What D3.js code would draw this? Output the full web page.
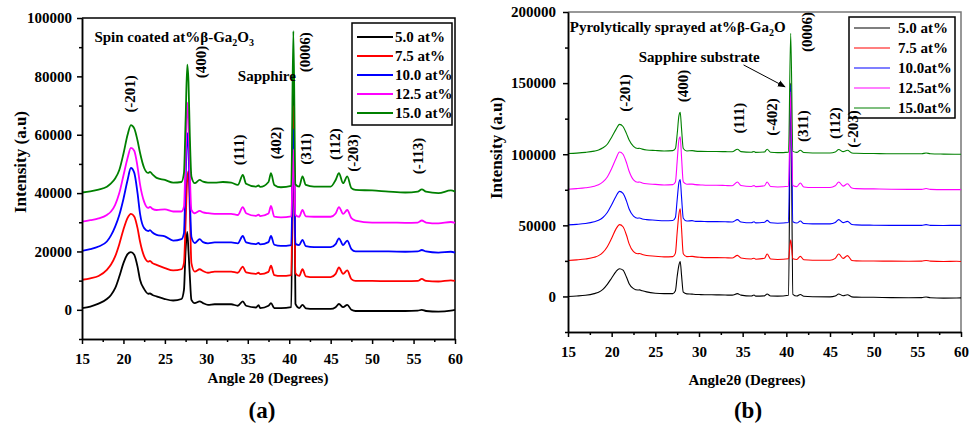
<!DOCTYPE html>
<html>
<head>
<meta charset="utf-8">
<script src="https://cdn.jsdelivr.net/npm/d3@7"></script>
<style>
body { margin: 0; background: #fff; }
svg text { font-family: "Liberation Serif", "Times New Roman", serif; font-weight: bold; fill: #000; }
</style>
</head>
<body>
<div id="chart"></div>
<script>
// 2theta positions shared by every pattern
var angles = [15, 16, 17, 18, 18.5, 19, 19.5, 20, 20.5, 20.9, 21.3, 21.7, 22, 22.5, 23, 23.2, 23.5, 24, 25, 26,
  27, 27.3, 27.5, 27.7, 27.85, 28, 28.2, 28.6, 29.2, 29.6, 30.2, 31, 32, 33, 33.8, 34.4, 34.8, 36, 36.3, 36.5,
  37.5, 37.8, 38.2, 39, 40.25, 40.5, 40.75, 41.2, 41.6, 42, 43, 45, 45.6, 46, 46.5, 47, 47.5, 48, 50,
  52, 54, 55.5, 56, 56.5, 58, 59.5, 60];

var seriesColors = ["#000000", "#ff0000", "#0000ff", "#ff00ff", "#008000"];
var legendA = ["5.0 at%", "7.5 at%", "10.0 at%", "12.5 at%", "15.0 at%"];
var legendB = ["5.0 at%", "7.5 at%", "10.0at%", "12.5at%", "15.0at%"];

var xTicks = [15, 20, 25, 30, 35, 40, 45, 50, 55, 60];
var xMinor = [17.5, 22.5, 27.5, 32.5, 37.5, 42.5, 47.5, 52.5, 57.5];
var yTicksA = [0, 20000, 40000, 60000, 80000, 100000];
var yMinorA = [-10000, 10000, 30000, 50000, 70000, 90000];
var yTicksB = [0, 50000, 100000, 150000, 200000];
var yMinorB = [-25000, 25000, 75000, 125000, 175000];

// (a) spin coated
var spin50 = [600, 1100, 2100, 3700, 5100, 7400, 11400, 16000, 19100, 19800, 18900, 14800, 10300, 7100, 5500, 5600, 5100, 4600, 3700, 3200,
  3700, 6800, 20500, 26700, 20000, 12000, 3400, 2300, 2900, 2300, 1700, 1900, 1900, 1900, 1400, 2900, 1400, 800, 1600, 600,
  1400, 2300, 600, 600, 900, 80000, 2000, 600, 1700, 500, 300, 300, 900, 2000, 900, 1700, 0, -400, -400,
  -400, -400, -300, 0, -400, -600, -300, 0];
var spin75 = [10300, 10800, 11600, 13700, 15500, 18300, 22500, 27500, 31500, 32900, 32000, 28000, 23400, 18300, 16500, 16800, 16000, 15400, 14300, 13500,
  13900, 16000, 30000, 45000, 47500, 35000, 16000, 13100, 13900, 13300, 12700, 13100, 13100, 13100, 12700, 14800, 12800, 12300, 12700, 12200,
  13000, 15100, 11900, 11600, 11900, 70000, 12500, 11600, 13900, 11500, 11200, 11200, 12300, 14500, 12300, 13500, 10500, 9900, 9900,
  9800, 9800, 9900, 10600, 9900, 9700, 10100, 9900];
var spin100 = [20200, 20800, 21700, 23400, 25500, 28500, 32500, 38000, 44500, 48600, 47000, 40000, 33000, 28000, 27000, 27300, 26500, 25700, 25200, 23700,
  24200, 26300, 45000, 60500, 55000, 40000, 25000, 22900, 24200, 23200, 22800, 23100, 23100, 23100, 22800, 25300, 23100, 22500, 22900, 22400,
  23200, 25300, 22300, 21900, 22200, 62000, 22600, 22200, 24000, 21800, 21500, 21500, 22500, 24500, 22200, 23700, 20800, 20000, 20000,
  20000, 19900, 20000, 20500, 20000, 19600, 19900, 19600];
var spin125 = [30200, 30700, 31300, 32500, 33700, 36000, 40000, 46000, 52000, 55500, 54500, 49000, 43000, 37000, 34900, 35300, 34600, 34200, 34400, 33700,
  33700, 35300, 52000, 71000, 65000, 48000, 34200, 33100, 33900, 33400, 33100, 32900, 32900, 32900, 32500, 35200, 33100, 32200, 32600, 32100,
  33000, 35600, 31900, 31700, 32000, 55000, 32500, 31900, 34200, 32000, 31900, 31900, 33000, 35200, 32900, 34200, 31400, 30600, 29900,
  29900, 29800, 29900, 30600, 29900, 29600, 30100, 29800];
var spin150 = [40200, 40600, 41200, 42200, 43300, 45000, 47900, 53500, 60000, 63300, 62200, 58000, 53800, 48600, 46900, 47300, 46400, 45200, 44500, 43600,
  43800, 46900, 65000, 84000, 78000, 60600, 45700, 43400, 44500, 43900, 43600, 43600, 43800, 43600, 42800, 46200, 43200, 42200, 42600, 42100,
  43800, 46800, 42800, 42000, 42500, 95500, 43000, 42200, 45700, 42800, 42200, 42200, 44500, 46800, 43400, 45700, 41700, 41100, 40900,
  40500, 40200, 40500, 41300, 40500, 40000, 40900, 40500];

// (b) pyrolytically sprayed
var spray50 = [0, 300, 800, 2000, 3000, 5000, 8500, 13000, 17500, 19500, 18500, 13500, 9000, 5500, 4500, 4600, 4000, 3200, 2300, 2000,
  2000, 4000, 14000, 22000, 24600, 15000, 3000, 1800, 1600, 1400, 1300, 1200, 1100, 1000, 900, 2000, 900, 300, 1000, 200,
  400, 1700, 300, 200, 800, 150000, 1500, 300, 1400, 100, -200, -300, 300, 1700, 500, 1200, -300, -500, -600,
  -800, -900, -800, -400, -900, -1200, -1100, -1000];
var spray75 = [25300, 25700, 26300, 27500, 28700, 31000, 35000, 41000, 47500, 50500, 49000, 43000, 37000, 31500, 30000, 30200, 29500, 28800, 28300, 27800,
  28000, 30500, 45000, 58000, 61700, 48000, 30000, 28000, 28200, 27800, 27500, 27300, 27300, 27200, 27000, 28900, 27000, 26300, 26900, 26200,
  26800, 29800, 26300, 26000, 26500, 39900, 26500, 26000, 28200, 25800, 25500, 25500, 26800, 29800, 26800, 28700, 25300, 25000, 24900,
  24800, 24700, 24800, 25300, 24800, 24600, 24700, 24600];
var spray100 = [50300, 50700, 51300, 52500, 53500, 55500, 59000, 64500, 70500, 73900, 72500, 67000, 61500, 56500, 55000, 55200, 54500, 54000, 53600, 53200,
  53400, 55500, 68000, 80000, 82200, 70000, 55000, 53000, 53300, 52800, 52800, 52600, 52600, 52500, 52300, 54000, 52400, 51800, 52500, 51700,
  52200, 53500, 51800, 51500, 52000, 148600, 52500, 51600, 53000, 51300, 51000, 51000, 52000, 54000, 51900, 52800, 50600, 50300, 50100,
  50000, 50000, 50000, 50500, 50000, 49900, 50000, 50000];
var spray125 = [75400, 75800, 76400, 77500, 78500, 80500, 84000, 90000, 97000, 101600, 100000, 94000, 88000, 82000, 80300, 80500, 79800, 79200, 78800, 78400,
  78600, 80500, 95000, 110000, 112200, 98000, 80500, 78900, 79000, 78600, 78400, 78200, 78200, 78000, 77800, 80500, 78000, 77300, 77900, 77200,
  77800, 80500, 77300, 77000, 77500, 143900, 78000, 77200, 79800, 77000, 76600, 76600, 77800, 80500, 77600, 79200, 76200, 75800, 75600,
  75400, 75300, 75300, 75900, 75300, 75100, 75100, 75100];
var spray150 = [100500, 100800, 101300, 102200, 103000, 104500, 107000, 112000, 117500, 121000, 119500, 114500, 110000, 105500, 104000, 104200, 103600, 103000, 102600, 102300,
  102500, 104000, 114000, 127000, 129400, 118000, 104000, 102300, 102500, 102200, 102000, 101900, 101900, 101800, 101700, 103500, 101800, 101400, 101900, 101300,
  101600, 103500, 101400, 101100, 101500, 185000, 102000, 101300, 102800, 101200, 100900, 100900, 101600, 103300, 101800, 102800, 100900, 100700, 100500,
  100300, 100300, 100300, 100900, 100300, 100100, 100000, 100000];

var svg = d3.select("#chart").append("svg")
  .attr("width", 979)
  .attr("height", 425);

function drawPanel(p) {
  var g = svg.append("g");

  var x = d3.scaleLinear().domain([15, 60]).range([p.left, p.right]);
  var y = d3.scaleLinear().domain(p.yDomain).range([p.bottom, p.top]);

  // frame (top + right)
  g.append("path")
    .attr("d", `M${p.left},${p.top}H${p.right}V${p.bottom}`)
    .attr("fill", "none")
    .attr("stroke", p.frameColor)
    .attr("stroke-width", 1.5);

  // patterns
  var line = d3.line()
    .x((d, i) => x(angles[i]))
    .y(d => y(d))
    .curve(d3.curveMonotoneX);

  g.selectAll(".trace")
    .data(p.series)
    .enter()
    .append("path")
    .attr("class", "trace")
    .attr("d", d => line(d))
    .attr("fill", "none")
    .attr("stroke", (d, i) => seriesColors[i])
    .attr("stroke-width", p.lineWidth)
    .attr("stroke-linejoin", "round");

  // axes
  var xAxis = g.append("g")
    .attr("transform", `translate(0, ${p.bottom})`)
    .call(d3.axisBottom(x).tickValues(xTicks).tickSize(5).tickSizeOuter(0).tickPadding(9));
  g.append("g")
    .attr("transform", `translate(0, ${p.bottom})`)
    .call(d3.axisBottom(x).tickValues(xMinor).tickSize(3).tickSizeOuter(0).tickFormat(""));
  var yAxis = g.append("g")
    .attr("transform", `translate(${p.left}, 0)`)
    .call(d3.axisLeft(y).tickValues(p.yTicks).tickSize(5).tickSizeOuter(0).tickPadding(p.yPad).tickFormat(d3.format("d")));
  g.append("g")
    .attr("transform", `translate(${p.left}, 0)`)
    .call(d3.axisLeft(y).tickValues(p.yMinor).tickSize(3).tickSizeOuter(0).tickFormat(""));

  g.selectAll(".domain, .tick line").attr("stroke", "#000").attr("stroke-width", 1.5);
  g.selectAll(".tick text").attr("font-size", 15).attr("font-family", "Liberation Serif").attr("font-weight", "bold");

  // axis titles
  g.append("text")
    .attr("transform", `translate(${p.yTitleX}, ${p.yTitleY}) rotate(-90)`)
    .attr("text-anchor", "middle")
    .attr("dominant-baseline", "central")
    .attr("font-size", 17)
    .text("Intensity (a.u)");
  g.append("text")
    .attr("x", p.xTitleX)
    .attr("y", p.xTitleY)
    .attr("text-anchor", "middle")
    .attr("font-size", 15)
    .text(p.xTitle);
  g.append("text")
    .attr("x", p.tagX)
    .attr("y", 418)
    .attr("text-anchor", "middle")
    .attr("font-size", 23)
    .text(p.tag);

  // title with subscripts
  var t = g.append("text")
    .attr("x", x(p.title.at[0]))
    .attr("y", y(p.title.at[1]))
    .attr("font-size", 15);
  p.title.parts.forEach(function(part) {
    var s = t.append("tspan").text(part[0]);
    if (part[1]) s.attr("font-size", 10).attr("dy", 4);
    else if (part[2]) s.attr("dy", -4);
  });

  // legend
  var lg = g.append("g");
  lg.append("rect")
    .attr("x", p.legend.x)
    .attr("y", p.legend.y)
    .attr("width", p.legend.w)
    .attr("height", p.legend.h)
    .attr("fill", "#fff")
    .attr("stroke", "#000")
    .attr("stroke-width", 1.5);
  p.legend.labels.forEach(function(lab, i) {
    var ry = p.legend.y + p.legend.first + i * p.legend.step;
    lg.append("line")
      .attr("x1", p.legend.x + 5).attr("x2", p.legend.x + 41)
      .attr("y1", ry).attr("y2", ry)
      .attr("stroke", seriesColors[i])
      .attr("stroke-width", p.lineWidth);
    lg.append("text")
      .attr("x", p.legend.x + p.legend.textDx)
      .attr("y", ry)
      .attr("dominant-baseline", "central")
      .attr("font-size", 15)
      .text(lab);
  });

  // reflection labels
  p.peaks.forEach(function(pk) {
    g.append("text")
      .attr("transform", `translate(${x(pk[1])}, ${y(pk[2])}) rotate(-90)`)
      .attr("text-anchor", "middle")
      .attr("dominant-baseline", "central")
      .attr("font-size", 15)
      .text(pk[0]);
  });

  p.notes.forEach(function(n) {
    g.append("text")
      .attr("x", x(n[1]))
      .attr("y", y(n[2]))
      .attr("font-size", 15)
      .text(n[0]);
  });

  if (p.arrow) {
    svg.append("defs").append("marker")
      .attr("id", "head")
      .attr("viewBox", "0 0 10 10")
      .attr("refX", 9).attr("refY", 5)
      .attr("markerWidth", 8).attr("markerHeight", 8)
      .attr("orient", "auto")
      .append("path").attr("d", "M0,1L10,5L0,9Z").attr("fill", "#000");
    g.append("line")
      .attr("x1", x(p.arrow[0])).attr("y1", y(p.arrow[1]))
      .attr("x2", x(p.arrow[2])).attr("y2", y(p.arrow[3]))
      .attr("stroke", "#000")
      .attr("stroke-width", 1)
      .attr("marker-end", "url(#head)");
  }
}

drawPanel({
  left: 82, right: 455, top: 18, bottom: 339,
  yDomain: [-10000, 100000], yTicks: yTicksA, yMinor: yMinorA, yPad: 5,
  frameColor: "#000", lineWidth: 1.8,
  series: [spin50, spin75, spin100, spin125, spin150],
  yTitleX: 20, yTitleY: 162,
  xTitle: "Angle 2\u03b8 (Degrees)", xTitleX: 268, xTitleY: 383,
  tag: "(a)", tagX: 262,
  title: { at: [16.5, 91800], parts: [["Spin coated at%\u03b2-Ga"], ["2", true], ["O", false, true], ["3", true]] },
  legend: { x: 352, y: 23, w: 100, h: 102, first: 14, step: 19, textDx: 43, labels: legendA },
  peaks: [["(-201)", 20.8, 74000], ["(400)", 29.3, 84900], ["(0006)", 41.9, 88300], ["(111)", 33.9, 54800],
    ["(402)", 38.4, 57200], ["(311)", 42.0, 55100], ["(112)", 45.5, 56800], ["(-203)", 47.7, 53700], ["(-113)", 55.5, 52700]],
  notes: [["Sapphire", 33.8, 78400]]
});

drawPanel({
  left: 568, right: 961, top: 12, bottom: 332,
  yDomain: [-25000, 200000], yTicks: yTicksB, yMinor: yMinorB, yPad: 7,
  frameColor: "#777", lineWidth: 1.1,
  series: [spray50, spray75, spray100, spray125, spray150],
  yTitleX: 496, yTitleY: 148,
  xTitle: "Angle2\u03b8 (Degrees)", xTitleX: 747, xTitleY: 385,
  tag: "(b)", tagX: 748,
  title: { at: [15.2, 185900], parts: [["Pyrolytically sprayed at%\u03b2-Ga"], ["2", true], ["O", false, true]] },
  legend: { x: 849, y: 17, w: 106, h: 101, first: 11, step: 20, textDx: 49, labels: legendB },
  peaks: [["(0006)", 42.4, 185900], ["(-201)", 21.5, 143000], ["(400)", 28.2, 147900], ["(111)", 34.6, 125400],
    ["(-402)", 38.4, 126100], ["(311)", 41.9, 119800], ["(112)", 45.6, 121900], ["(-203)", 47.6, 117700]],
  notes: [["Sapphire substrate", 23.1, 164600]],
  arrow: [35.1, 162800, 39.85, 147400]
});
</script>
</body>
</html>
